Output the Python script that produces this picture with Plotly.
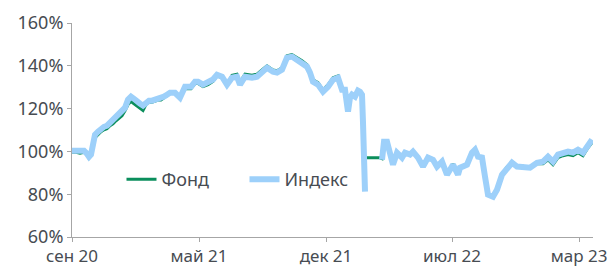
import plotly.graph_objects as go

# trading-day index (horizontal position) of each sampled point
t = [0, 4, 8, 12, 15, 17, 19, 21, 23, 26, 29, 32, 35, 38, 41, 44, 47, 50, 53, 56,
     59, 62, 65, 68, 71, 74, 77, 80, 83, 86, 89, 92, 95, 98, 103, 108, 113, 119, 123, 126,
     131, 136, 141, 145, 150, 155, 160, 165, 168, 173, 180, 185, 190, 195, 201, 205, 210, 215, 220, 225,
     230, 235, 238, 241, 246, 251, 256, 261, 266, 270, 273, 275, 276, 278, 280, 283, 286, 288, 290, 291,
     292, 293, 294, 298, 303, 308, 310, 312, 315, 318, 321, 325, 330, 333, 338, 341, 346, 351, 356, 361,
     365, 370, 375, 381, 386, 388, 395, 400, 403, 406, 410, 413, 416, 421, 425, 430, 435, 440, 445, 450,
     458, 465, 471, 476, 481, 486, 491, 496, 501, 506, 511, 516, 520]

fund = [99.6, 99.6, 99.2, 99.6, 98.2, 96.8, 97.8, 103.0, 106.4, 107.8, 109.2, 110.1, 110.6, 112.0, 112.9, 114.3, 115.7, 116.7, 119.0, 121.9,
        123.3, 122.3, 120.9, 120.0, 119.1, 121.9, 123.0, 123.0, 123.5, 124.0, 124.0, 125.0, 126.0, 127.0, 127.0, 124.6, 129.3, 129.3, 131.7, 131.7,
        130.3, 131.2, 132.7, 135.3, 134.4, 131.0, 135.6, 136.1, 132.4, 136.1, 135.6, 136.1, 138.1, 140.0, 138.1, 137.7, 139.1, 144.7, 145.2, 143.8,
        142.4, 140.5, 137.7, 133.5, 132.1, 128.8, 131.1, 134.4, 135.3, 129.3, 129.3, 121.8, 118.6, 125.1, 126.5, 125.6, 128.4, 127.9, 126.5, 113.4,
        97.0, 97.0, 97.0, 97.0, 97.0, 97.0, 96.6, 104.8, 104.8, 97.8, 94.1, 99.7, 97.4, 99.7, 98.8, 100.2, 97.4, 93.2, 97.4, 96.4,
        93.2, 95.5, 89.4, 94.1, 89.4, 92.7, 94.1, 99.7, 101.1, 97.8, 97.4, 88.5, 80.1, 79.1, 82.4, 89.4, 92.7, 95.0, 93.2, 93.2,
        92.4, 94.2, 94.2, 96.1, 93.8, 97.1, 98.0, 98.5, 98.0, 99.4, 98.0, 101.7, 104.1]

index = [100.3, 100.3, 99.9, 100.3, 98.9, 97.5, 98.5, 104.1, 107.8, 109.2, 110.6, 111.5, 112.0, 113.4, 114.3, 115.7, 117.1, 118.1, 120.4, 124.2,
         125.6, 124.6, 123.2, 122.3, 121.4, 122.8, 123.7, 123.7, 124.2, 124.6, 124.6, 125.6, 126.5, 127.4, 127.4, 125.1, 130.2, 130.2, 132.6, 132.6,
         131.2, 132.1, 133.6, 135.8, 134.9, 131.2, 134.4, 134.9, 131.2, 134.9, 134.4, 134.9, 137.2, 139.1, 137.2, 136.8, 138.2, 143.8, 144.3, 142.9,
         141.5, 139.6, 136.8, 132.6, 131.2, 127.9, 130.2, 133.5, 134.4, 128.8, 128.8, 121.8, 118.6, 125.1, 126.5, 125.6, 128.4, 127.9, 126.5, 113.4,
         96.1, 81.2, None, None, None, None, 96.1, 104.5, 104.5, 97.5, 93.8, 99.4, 97.1, 99.4, 98.5, 99.9, 97.1, 92.9, 97.1, 96.1,
         92.9, 95.2, 89.1, 93.8, 89.1, 92.4, 93.8, 99.4, 100.8, 97.5, 97.1, 88.2, 79.8, 78.8, 82.1, 89.1, 92.4, 94.7, 92.9, 92.9,
         92.4, 94.7, 95.2, 97.5, 95.2, 98.5, 99.4, 99.9, 99.4, 100.8, 99.4, 103.1, 105.5]

tick_pos = [0, 127, 254, 380, 507]
tick_text = ["сен 20", "май 21", "дек 21", "июл 22", "мар 23"]
y_ticks = [60, 80, 100, 120, 140, 160]
y_tick_text = ["60%", "80%", "100%", "120%", "140%", "160%"]

GREEN = "#0B8E5C"
BLUE = "#9DD0FA"
TEXT = "#474C52"
AXIS = "#A6A6A6"

fig = go.Figure()
fig.add_trace(go.Scatter(x=t, y=fund, mode="lines", name="Фонд",
                         line=dict(color=GREEN, width=3), connectgaps=False))
fig.add_trace(go.Scatter(x=t, y=index, mode="lines", name="Индекс",
                         line=dict(color=BLUE, width=6), connectgaps=False))

fig.update_layout(
    width=608, height=267,
    margin=dict(l=72, r=15, t=23, b=30, autoexpand=False),
    paper_bgcolor="white", plot_bgcolor="white",
    font=dict(family="Noto Sans, sans-serif", size=17, color=TEXT),
    showlegend=True,
    legend=dict(orientation="h", x=0.095, y=0.268, xanchor="left", yanchor="middle",
                bgcolor="rgba(0,0,0,0)", font=dict(size=18, color=TEXT),
                entrywidth=78, entrywidthmode="pixels", tracegroupgap=0),
    xaxis=dict(range=[0, 521], tickvals=tick_pos, ticktext=tick_text,
               showgrid=False, zeroline=False, showline=True, linecolor=AXIS, linewidth=1,
               ticks="outside", ticklen=4, tickcolor=AXIS, ticklabeloverflow="allow",
               tickfont=dict(size=17, color=TEXT)),
    yaxis=dict(range=[60, 160], tickvals=y_ticks, ticktext=y_tick_text,
               showgrid=False, zeroline=False, showline=True, linecolor=AXIS, linewidth=1,
               ticks="outside", ticklen=4, tickcolor=AXIS, tickfont=dict(size=18, color=TEXT)),
)

# remove the default page margin so the figure fills the 608x267 window exactly
fig.write_html("out.html",
               config={"displayModeBar": False},
               post_script="document.body.style.margin='0';document.body.style.overflow='hidden';")
